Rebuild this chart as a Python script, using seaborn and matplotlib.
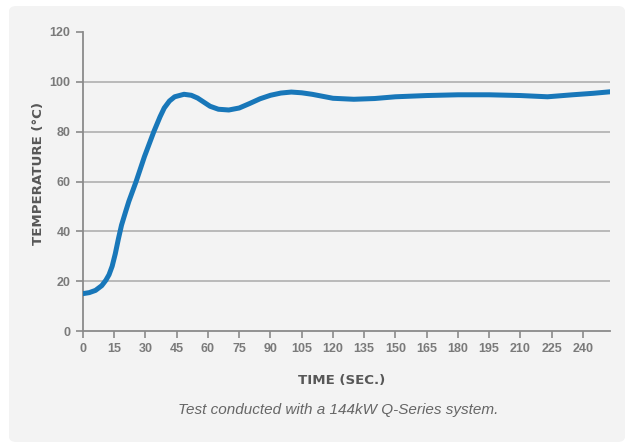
import numpy as np
import pandas as pd
import matplotlib
matplotlib.use("Agg")
import matplotlib.pyplot as plt
from matplotlib.patches import FancyBboxPatch
import seaborn as sns

sns.set_theme(style="ticks")
plt.rcParams['font.family'] = ['Liberation Sans', 'DejaVu Sans']

# data
time_s = [0, 3, 6, 9, 11, 12.5, 14, 15.5, 17, 18.5, 20.5, 22, 25.5, 29.5, 34, 37, 39,
          41.5, 44, 48.5, 52, 55, 61, 65, 70, 75, 80, 85, 90, 95, 100, 105, 110, 115,
          120, 130, 140, 150, 165, 180, 195, 210, 223, 235, 245, 253]
temp_c = [15, 15.4, 16.3, 18.2, 20.4, 22.6, 26, 31, 37, 42.5, 48, 52, 60, 70, 80, 86,
          89.5, 92.3, 94, 95, 94.6, 93.5, 90.2, 89, 88.7, 89.5, 91.3, 93.2, 94.6, 95.5,
          95.9, 95.6, 95, 94.2, 93.4, 93.0, 93.3, 94.0, 94.5, 94.8, 94.8, 94.5, 94.0,
          94.8, 95.4, 96]
x_ticks = list(range(0, 241, 15))
y_ticks = [0, 20, 40, 60, 80, 100, 120]

df = pd.DataFrame({"Time": time_s, "Temp": temp_c})

fig = plt.figure(figsize=(6.34, 4.43), dpi=100)
fig.patch.set_facecolor("white")
panel = FancyBboxPatch((9 / 634, 1 / 443), 616 / 634, 436 / 443,
                       boxstyle="round,pad=0,rounding_size=0.012",
                       transform=fig.transFigure, facecolor="#f3f3f3",
                       edgecolor="none", zorder=-5)
fig.add_artist(panel)

ax = fig.add_axes([83 / 634, (443 - 331) / 443, (610 - 83) / 634, (331 - 32) / 443])
ax.set_facecolor("none")
ax.set_zorder(2)

for yv in y_ticks[1:-1]:
    ax.axhline(yv, color="#a9a9a9", lw=1.1, zorder=1)

sns.lineplot(data=df, x="Time", y="Temp", ax=ax, color="#1877b9", lw=3.6,
             solid_capstyle="round", solid_joinstyle="round", zorder=3)

ax.set_xlim(0, 253)
ax.set_ylim(0, 120)
ax.set_xticks(x_ticks)
ax.set_yticks(y_ticks)
for s in ["top", "right"]:
    ax.spines[s].set_visible(False)
for s in ["left", "bottom"]:
    ax.spines[s].set_color("#8a8a8a")
    ax.spines[s].set_linewidth(1.3)
ax.tick_params(axis="both", colors="#8a8a8a", length=5, width=1.2,
               labelsize=9, labelcolor="#7a7a7a", pad=4)
for lab in ax.get_xticklabels() + ax.get_yticklabels():
    lab.set_fontweight("bold")

ax.set_xlabel("TIME (SEC.)", fontsize=9.6, fontweight="bold", color="#575757",
              family="DejaVu Sans")
ax.set_ylabel("TEMPERATURE (°C)", fontsize=9.6, fontweight="bold", color="#575757",
              family="DejaVu Sans")
ax.xaxis.set_label_coords(0.49, -0.145)
ax.yaxis.set_label_coords(-0.072, 0.527)

fig.text(338 / 634, 1 - 410 / 443, "Test conducted with a 144kW Q-Series system.",
         ha="center", va="center", fontsize=11, style="italic", color="#666666")

fig.savefig("out.png", dpi=100)
